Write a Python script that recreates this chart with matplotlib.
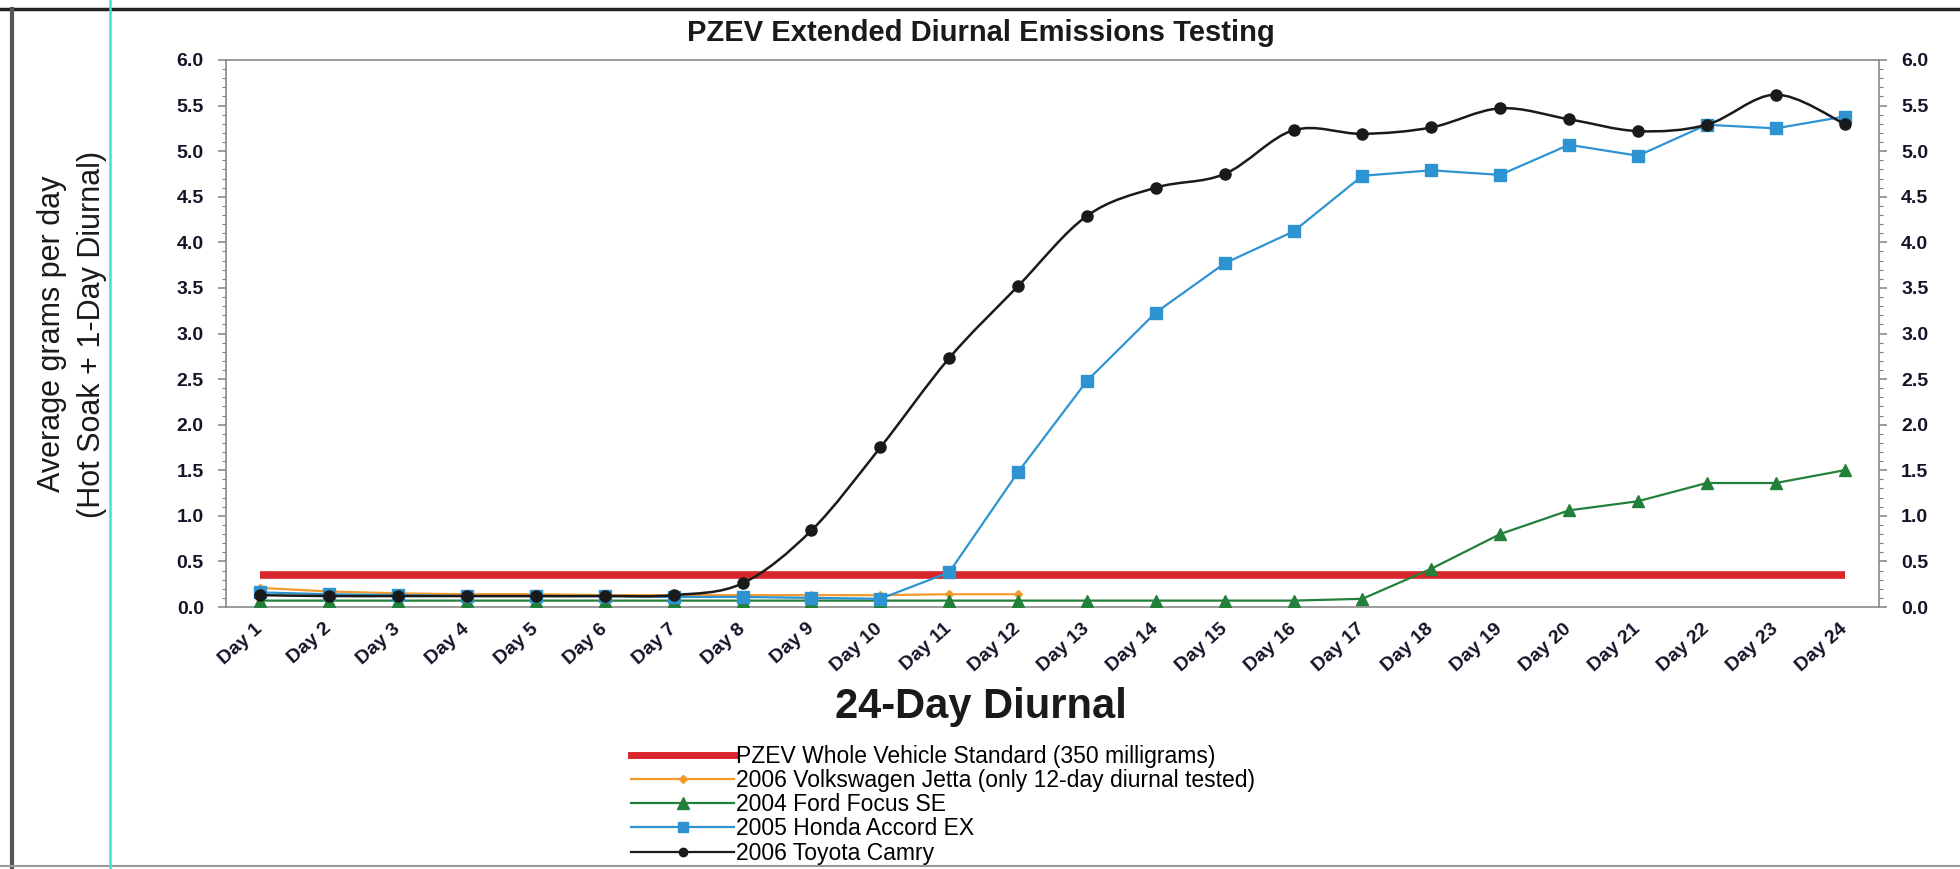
import matplotlib
matplotlib.use("Agg")
import matplotlib.pyplot as plt
import numpy as np
from matplotlib.path import Path
from matplotlib.patches import PathPatch
from matplotlib.lines import Line2D
from matplotlib.ticker import MultipleLocator, FormatStrFormatter

plt.rcParams['font.family'] = ['Liberation Sans', 'DejaVu Sans']

# Datos
dias = [f"Day {i}" for i in range(1, 25)]
estandar_pzev = 0.35
jetta = [0.21, 0.17, 0.15, 0.14, 0.14, 0.13, 0.13, 0.13, 0.13, 0.13, 0.14, 0.14]
focus = [0.07, 0.07, 0.07, 0.07, 0.07, 0.07, 0.07, 0.07, 0.07, 0.07, 0.07, 0.07,
         0.07, 0.07, 0.07, 0.07, 0.09, 0.42, 0.80, 1.06, 1.16, 1.36, 1.36, 1.50]
honda = [0.16, 0.14, 0.13, 0.12, 0.12, 0.12, 0.11, 0.11, 0.10, 0.09, 0.38, 1.48,
         2.48, 3.23, 3.77, 4.12, 4.73, 4.79, 4.74, 5.07, 4.95, 5.29, 5.25, 5.38]
camry = [0.13, 0.12, 0.12, 0.12, 0.12, 0.12, 0.13, 0.26, 0.84, 1.75, 2.73, 3.52,
         4.29, 4.60, 4.75, 5.23, 5.19, 5.26, 5.47, 5.35, 5.22, 5.29, 5.62, 5.30]

etiquetas = ["PZEV Whole Vehicle Standard (350 milligrams)",
             "2006 Volkswagen Jetta (only 12-day diurnal tested)",
             "2004 Ford Focus SE",
             "2005 Honda Accord EX",
             "2006 Toyota Camry"]

ROJO = '#D8262C'
NARANJA = '#F39A2C'
VERDE = '#23803A'
AZUL = '#2E93D1'
NEGRO = '#1A1A1A'
TXT = '#141428'


def curva_suave(x, y):
    # linea suavizada tipo Excel (Catmull-Rom -> Bezier)
    x = np.asarray(x, float)
    y = np.asarray(y, float)
    n = len(x)
    verts = [(x[0], y[0])]
    codes = [Path.MOVETO]
    for i in range(n - 1):
        i0 = max(i - 1, 0)
        i3 = min(i + 2, n - 1)
        c1 = (x[i] + (x[i + 1] - x[i0]) / 6, y[i] + (y[i + 1] - y[i0]) / 6)
        c2 = (x[i + 1] - (x[i3] - x[i]) / 6, y[i + 1] - (y[i3] - y[i]) / 6)
        verts += [c1, c2, (x[i + 1], y[i + 1])]
        codes += [Path.CURVE4] * 3
    return Path(verts, codes)


W, H = 1960, 869
fig = plt.figure(figsize=(W / 100, H / 100), dpi=100, facecolor='white')
ax = fig.add_axes([226 / W, 1 - 607 / H, (1879 - 226) / W, (607 - 60) / H])

x = np.arange(1, len(dias) + 1)

ax.plot([x[0], x[-1]], [estandar_pzev, estandar_pzev], color=ROJO, lw=5.5,
        solid_capstyle='butt', zorder=2)
ax.plot(x[:len(jetta)], jetta, color=NARANJA, lw=1.6, marker='D', ms=4.5,
        markeredgecolor=NARANJA, zorder=3)
ax.plot(x, focus, color=VERDE, lw=1.6, marker='^', ms=9, zorder=4)
ax.plot(x, honda, color=AZUL, lw=1.6, marker='s', ms=8, zorder=5)
ax.add_patch(PathPatch(curva_suave(x, camry), fill=False, edgecolor=NEGRO,
                       lw=1.8, zorder=6))
ax.plot(x, camry, color=NEGRO, ls='none', marker='o', ms=8, zorder=7)

ax.set_xlim(0.5, 24.5)
ax.set_ylim(0, 6)
ax.yaxis.set_major_locator(MultipleLocator(0.5))
ax.yaxis.set_minor_locator(MultipleLocator(0.1))
ax.yaxis.set_major_formatter(FormatStrFormatter('%.1f'))
ax.set_xticks(x)
ax.set_xticklabels(dias, rotation=42, ha='right', va='center',
                   rotation_mode='anchor', fontsize=14, fontweight='bold',
                   color=TXT)
ax.tick_params(axis='x', length=0, pad=14)
ax.tick_params(axis='y', which='both', direction='out', left=True, right=True,
               labelleft=True, labelright=True, color='#808080')
ax.tick_params(axis='y', which='major', length=6, width=1.1, pad=10,
               labelsize=14, labelcolor=TXT)
ax.tick_params(axis='y', which='minor', length=3, width=0.8)
for lab in ax.get_yticklabels(which='both'):
    lab.set_fontweight('bold')
for s in ax.spines.values():
    s.set_color('#8A8A8A')
    s.set_linewidth(1.2)

fig.text(0.5006, 1 - 33 / H, "PZEV Extended Diurnal Emissions Testing",
         ha='center', va='center', fontsize=21, fontweight='bold', color=NEGRO)
fig.text(981 / W, 1 - 707 / H, "24-Day Diurnal", ha='center', va='center',
         fontsize=30, fontweight='bold', color=NEGRO)
fig.text(52 / W, 1 - 334 / H, "Average grams per day", rotation=90,
         ha='center', va='center', fontsize=22, color=NEGRO)
fig.text(92 / W, 1 - 334 / H, "(Hot Soak + 1-Day Diurnal)", rotation=90,
         ha='center', va='center', fontsize=22, color=NEGRO)

manejadores = [
    Line2D([], [], color=ROJO, lw=5),
    Line2D([], [], color=NARANJA, lw=1.6, marker='D', ms=4),
    Line2D([], [], color=VERDE, lw=1.6, marker='^', ms=8),
    Line2D([], [], color=AZUL, lw=1.6, marker='s', ms=7),
    Line2D([], [], color=NEGRO, lw=1.6, marker='o', ms=6),
]
fig.legend(manejadores, etiquetas, loc='upper left',
           bbox_to_anchor=(631 / W, 1 - 745 / H), frameon=False,
           fontsize=16.5, handlelength=4.5, handletextpad=0.1,
           labelspacing=0.05, borderpad=0, borderaxespad=0)

# marco del escaneo
fig.add_artist(Line2D([0, 1], [1 - 9 / H] * 2, transform=fig.transFigure,
                      color='#222222', lw=2.5))
fig.add_artist(Line2D([12 / W] * 2, [0, 1 - 9 / H], transform=fig.transFigure,
                      color='#555555', lw=3))
fig.add_artist(Line2D([0, 1], [1 - 866 / H] * 2, transform=fig.transFigure,
                      color='#999999', lw=1.5))
fig.add_artist(Line2D([110 / W] * 2, [0, 1], transform=fig.transFigure,
                      color='#3FE3CF', lw=1.8))

fig.savefig('out.png', dpi=100, facecolor='white')
